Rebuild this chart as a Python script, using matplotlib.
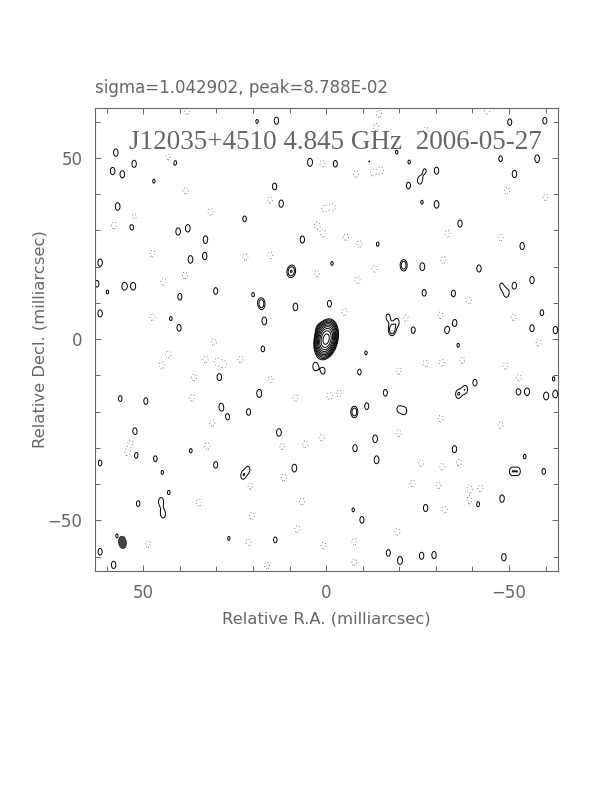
import numpy as np
import matplotlib
matplotlib.use("Agg")
import matplotlib.pyplot as plt
from matplotlib.patches import Ellipse

# map stats (mJy)
sigma = 1.042902
peak = 87.88
title = "J12035+4510 4.845 GHz  2006-05-27"

# core component: ra, dec (mas), size (mas), tilt (deg)
core_ra, core_dec = 0.0, 0.0
core_sx, core_sy, core_pa = 1.25, 2.2, -12.0

# restoring beam (mas)
beam_ra, beam_dec = 55.7, -56.1
beam_w, beam_h, beam_pa = 2.1, 3.4, -8.0

# positive noise peaks (amplitude in units of the lowest contour)
pos_ra = [57.5, 52.5, 58.4, 55.7, 57.0, 53.1, 40.5, 37.8, 33.0, 37.1, 33.2, 61.8, 55.2, 52.7,
          30.2, 40.0, 17.7, 8.4, 61.8, 40.2, 16.9, 13.6, 4.4, 41.4, 14.1, 12.3, 22.3, 6.5,
          9.1, 10.0, 62.7, 18.9, 59.8, 47.1, 20.0, 42.5,
          -50.2, -59.8, -57.7, -2.5, -47.7, -30.2, -25.6, -22.5, -51.5, -30.2, -26.2, -36.6,
          -53.6, -14.1, -21.2, -26.3, -41.8, -56.3, -26.8, -34.8, -49.3, -51.5, -47.9, -0.9,
          -19.5, -18.0, -23.8, -33.0, -35.2, -56.3, -62.7, -59.0, -19.3, -22.7, -1.6, -16.9,
          -11.8, -27.0,
          3.0, 0.8, 17.3, 29.2, 18.3, 56.3, 49.3, 28.7, 26.9, 21.2, 52.3, 12.9, 52.0, 46.7,
          37.0, 61.8, 30.2, 8.7, 22.7, 21.3, 44.8, 43.0, 51.4, 45.2, 44.6, 13.9, 26.6, 61.8,
          58.1, 57.2,
          -10.9, -9.1, -36.1, -40.7, -36.1, -38.0, -16.2, -52.5, -55.0, -60.1, -62.7, -62.2,
          -7.7, -11.1, -21.5, -19.8, -13.4, -7.9, -13.8, -35.1, -54.3, -50.7, -52.5, -59.5,
          -48.1, -41.5, -27.2, -9.8, -17.0, -20.2, -26.1, -29.5, -48.6, -7.4]
pos_dec = [51.5, 48.4, 46.4, 45.5, 36.6, 31.1, 29.7, 30.6, 27.5, 22.0, 22.9, 21.1, 14.6, 14.6,
           13.3, 11.7, 9.8, 8.9, 7.1, 3.1, 5.0, 60.3, 48.8, 48.8, 42.1, 37.4, 33.2, 27.5,
           19.0, 18.4, 15.3, 60.1, 13.0, 43.6, 12.3, 5.7,
           59.9, 60.3, 49.8, 48.4, 49.8, 46.5, 43.8, 42.4, 45.6, 37.2, 37.8, 31.9,
           25.7, 26.2, 20.4, 20.0, 19.5, 16.3, 12.8, 12.6, 12.6, 14.8, 14.8, 9.8,
           4.8, 2.5, 2.5, 2.5, 4.5, 3.0, 2.5, 7.3, 51.6, 48.9, 20.9, 6.1,
           48.9, 46.5,
           -7.6, -8.8, -2.7, -10.4, -15.0, -16.4, -17.1, -18.7, -21.5, -20.1, -25.5, -25.8, -32.0, -33.0,
           -30.8, -34.2, -34.7, -35.6, -37.7, -35.9, -36.8, -42.3, -45.4, -44.8, -48.3, -55.4, -55.0, -58.7,
           -62.3, -54.3,
           -3.8, -9.1, -1.7, -12.0, -15.2, -13.9, -14.8, -14.5, -14.5, -15.7, -15.2, -10.9,
           -20.1, -18.5, -19.8, -19.3, -27.5, -30.1, -33.3, -30.4, -32.4, -36.5, -36.5, -36.5,
           -44.0, -45.5, -46.6, -49.9, -59.0, -61.1, -59.8, -59.6, -60.2, -47.1]
pos_amp = [1.30, 1.28, 1.28, 1.28, 1.33, 1.30, 1.28, 1.30, 1.30, 1.33, 1.28, 1.30, 1.33, 1.30,
           1.24, 1.24, 1.9, 1.33, 1.28, 1.24, 1.33, 1.28, 1.37, 1.24, 1.28, 1.30, 1.18, 1.28,
           1.24, 1.18, 1.24, 1.08, 1.08, 1.08, 1.08, 1.08,
           1.24, 1.24, 1.33, 1.24, 1.18, 1.28, 1.28, 1.24, 1.30, 1.33, 1.08, 1.28,
           1.28, 1.10, 1.9, 1.35, 1.28, 1.28, 1.24, 1.24, 1.30, 1.24, 1.08, 1.24,
           1.24, 1.85, 1.24, 1.28, 1.24, 1.28, 1.30, 1.18, 1.08, 1.08, 1.08, 1.18,
           1.05, 1.05,
           1.30, 1.18, 1.18, 1.33, 1.37, 1.18, 1.24, 1.30, 1.18, 1.24, 1.30, 1.35, 1.24, 1.18,
           1.10, 1.18, 1.24, 1.35, 1.28, 1.10, 1.08, 1.08, 1.18, 1.30, 1.33, 1.18, 1.08, 1.24,
           1.30, 1.08,
           1.08, 1.18, 1.08, 1.24, 1.38, 1.33, 1.24, 1.24, 1.30, 1.33, 1.28, 1.08,
           1.9, 1.24, 1.18, 1.08, 1.33, 1.28, 1.35, 1.30, 1.10, 1.24, 1.24, 1.18,
           1.30, 1.18, 1.28, 1.24, 1.24, 1.37, 1.28, 1.28, 1.30, 1.08]

# negative noise dips (dotted contours)
neg_ra = [43.0, 38.4, 52.5, 47.5, 22.1, 38.6, 44.5, 2.5, 0.7, 1.0, 47.5, 38.0, 15.3, 31.6,
          58.0, 15.3, 2.5, 0.5,
          -14.5, -13.6, -27.2, -8.2, -12.7, -15.0, -33.2, -9.1, -32.1, -13.2, -8.6, -5.0,
          -21.8, -31.3, -51.3, -49.5, -60.0, -44.0, -1.8, -5.4, -39.0, -47.7,
          30.7, 33.0, 29.8, 28.0, 23.4, 45.0, 36.1, 15.2, 8.4, 36.6, 31.1, 53.4, 54.3, 32.5,
          5.7, 12.0, 1.2, 11.6, 20.7, 34.8, 6.6, 20.3, 7.9, 21.2, 48.7, 0.7, 16.2, 43.2,
          -0.9, -3.6, -19.8, -31.6, -37.2, -49.0, -52.7, -47.7, -31.3, -25.9, -31.8, -30.7,
          -39.2, -42.2, -39.2, -32.4, -19.5, -7.7, -7.7, -58.1, -27.2, -19.8, -36.3, -23.6]
neg_dec = [50.2, 41.0, 33.7, 23.6, 22.7, 17.6, 15.8, 18.1, 29.1, 48.5, 6.1, 63.0, 38.5, 35.1,
           31.4, 23.1, 31.4, 36.0,
           62.2, 58.5, 57.6, 45.6, 46.0, 46.5, 29.1, 26.3, 21.9, 19.4, 16.3, 7.5,
           5.7, 6.6, 6.0, 41.0, 39.2, 63.0, 36.4, 28.2, 10.7, 28.1,
           -0.8, -5.6, -6.3, -7.0, -5.6, -7.3, -10.6, -11.1, -16.2, -16.2, -23.1, -28.6, -31.3, -29.5,
           -29.0, -29.5, -27.2, -38.2, -40.5, -45.1, -44.8, -48.8, -52.4, -56.1, -56.6, -57.0, -62.5, -4.2,
           -15.7, -15.0, -8.8, -6.5, -5.8, -7.4, -10.7, -23.8, -22.0, -34.2, -35.2, -40.3,
           -41.2, -41.2, -44.6, -47.1, -53.2, -55.9, -61.6, -1.0, -6.7, -26.0, -34.0, -39.8]

# contour levels: 3 sigma times powers of sqrt(2)
base = 3.0 * sigma
level_steps = [-1, 1, 1.414, 2, 2.83, 4, 5.66, 8, 11.3, 16, 22.6]


def gauss(X, Y, x0, y0, sx, sy, pa_deg=0.0):
    t = np.deg2rad(pa_deg)
    dx, dy = X - x0, Y - y0
    u = dx * np.cos(t) - dy * np.sin(t)
    v = dx * np.sin(t) + dy * np.cos(t)
    return np.exp(-0.5 * ((u / sx) ** 2 + (v / sy) ** 2))


def main() -> None:
    ra = np.linspace(64, -64, 641)
    dec = np.linspace(-64, 64, 641)
    X, Y = np.meshgrid(ra, dec)

    img = peak * gauss(X, Y, core_ra, core_dec, core_sx, core_sy, core_pa)
    img += 1.3 * base * gauss(X, Y, 1.6, 2.8, 0.9, 1.1)
    for x0, y0, a in zip(pos_ra, pos_dec, pos_amp):
        img += a * base * gauss(X, Y, x0, y0, 0.85, 1.4)
    for x0, y0 in zip(neg_ra, neg_dec):
        img -= 1.35 * base * gauss(X, Y, x0, y0, 0.9, 1.2)

    fig = plt.figure(figsize=(6.12, 7.92), dpi=100)
    ax = fig.add_axes([95 / 612, 1 - 571 / 792, 463 / 612, 463 / 792])

    levels = [s * base for s in level_steps]
    ax.contour(X, Y, img, levels=levels[:1], colors="#555555",
               linewidths=0.6, linestyles=[(0, (1, 3))])
    ax.contour(X, Y, img, levels=levels[1:], colors="black", linewidths=0.7)

    ax.add_patch(Ellipse((beam_ra, beam_dec), beam_w, beam_h, angle=beam_pa,
                         facecolor="#444444", edgecolor="#222222", lw=0.6))

    ax.set_xlim(63.2, -63.4)
    ax.set_ylim(-64.0, 63.8)
    ax.set_aspect("auto")

    grey = "#666666"
    ax.set_xticks([50, 0, -50])
    ax.set_yticks([-50, 0, 50])
    ax.set_xticks(np.arange(-60, 61, 10), minor=True)
    ax.set_yticks(np.arange(-60, 61, 10), minor=True)
    ax.set_xticklabels(["50", "0", "\u221250"])
    ax.set_yticklabels(["\u221250", "0", "50"])
    ax.tick_params(which="both", direction="in", top=True, right=True,
                   color=grey, width=0.7, labelsize=12, labelcolor=grey, pad=9)
    ax.tick_params(which="major", length=4.5)
    ax.tick_params(which="minor", length=3.5)
    for sp in ax.spines.values():
        sp.set_color(grey)
        sp.set_linewidth(0.8)

    ax.set_xlabel("Relative R.A. (milliarcsec)", fontsize=11.8, color=grey, labelpad=7)
    ax.set_ylabel("Relative Decl. (milliarcsec)", fontsize=11.8, color=grey, labelpad=0)

    fig.text(95 / 612, 1 - 88 / 792, f"sigma={sigma:.6f}, peak={peak / 1000:.3E}",
             fontsize=12, color=grey, va="center", ha="left")
    ax.text(0.52, 0.925, title, transform=ax.transAxes, fontsize=19.5,
            family="Liberation Serif", color=grey, ha="center", va="center")

    fig.savefig("out.png", dpi=100)


if __name__ == "__main__":
    main()
